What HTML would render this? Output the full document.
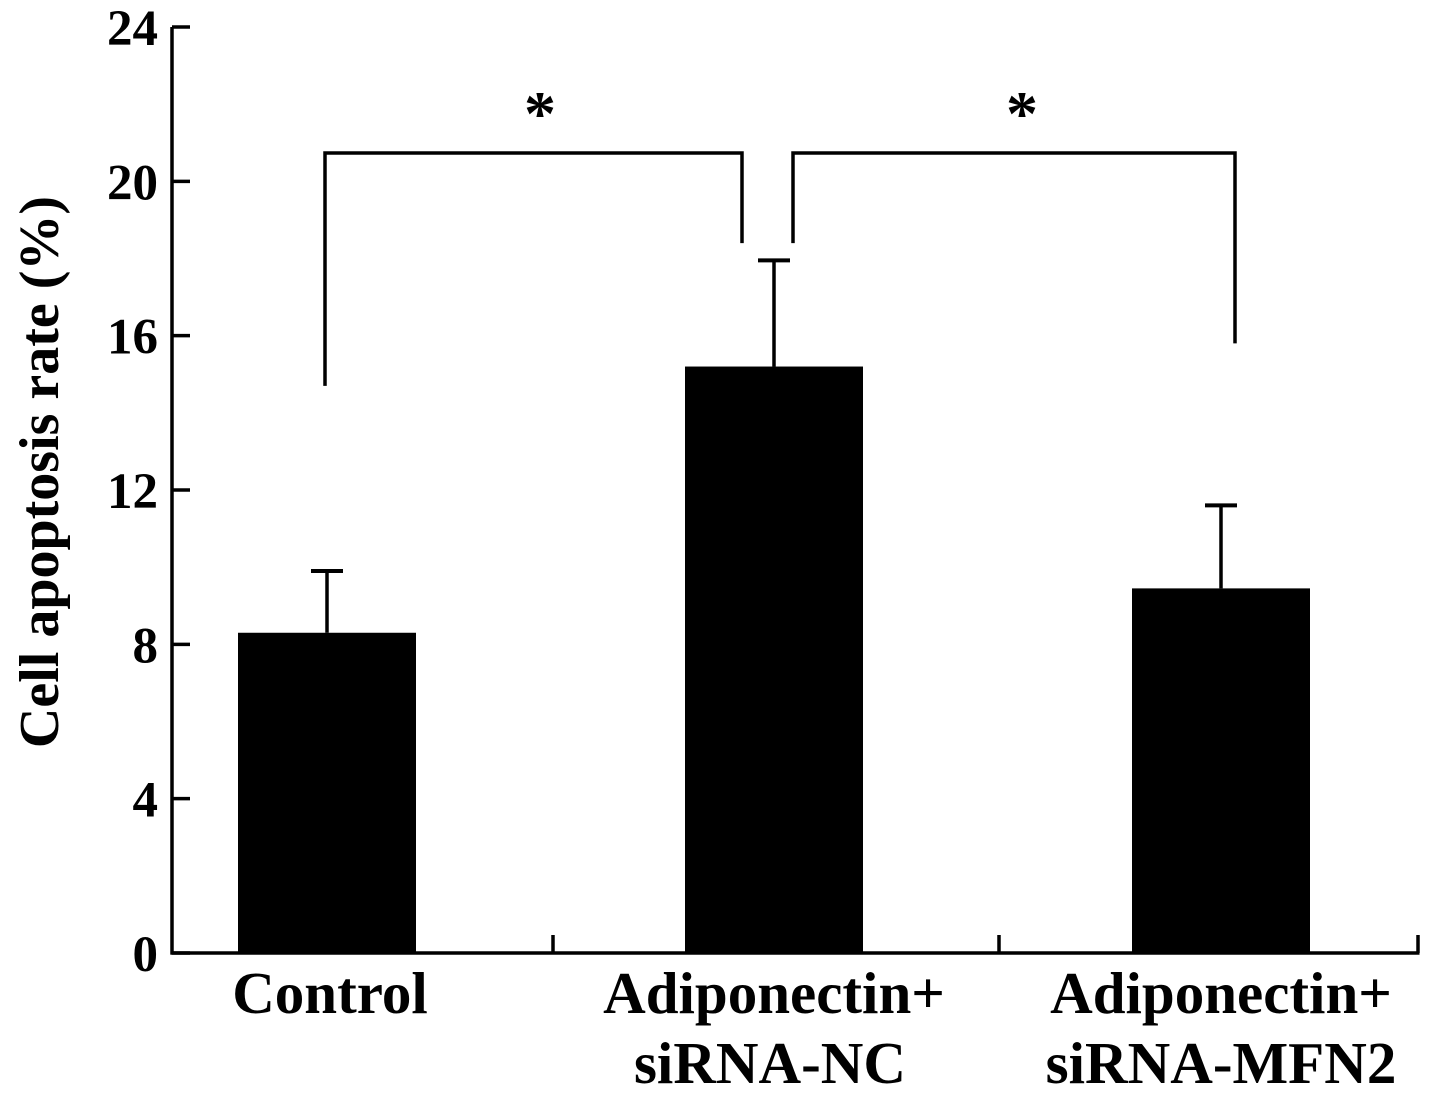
<!DOCTYPE html>
<html><head><meta charset="utf-8"><style>
html,body{margin:0;padding:0;background:#fff;}
svg{display:block;}
text{font-family:"Liberation Serif",serif;font-weight:bold;fill:#000;}
</style></head><body>
<svg id="chart" width="1441" height="1103" viewBox="0 0 1441 1103">
<g id="g"></g>
</svg>
<script>
const categories = ["Control", "Adiponectin+|siRNA-NC", "Adiponectin+|siRNA-MFN2"];
const values = [8.3, 15.2, 9.45];
const errors = [1.6, 2.75, 2.15];
const yTicks = [0, 4, 8, 12, 16, 20, 24];
const sigPairs = [[0, 1], [1, 2]];
const sigTops = [14.7, 18.4, 18.4, 15.8];

const NS = "http://www.w3.org/2000/svg";
const g = document.getElementById("g");
const x0 = 172, x1 = 1418, yBase = 953, yTop = 27;
const y = v => yBase - (v / 24) * (yBase - yTop);
const cx = i => 327 + 447 * i;
const bw = 178;
const labelX = [330, 774, 1221];
function el(tag, attrs, name) {
  const e = document.createElementNS(NS, tag);
  for (const k in attrs) e.setAttribute(k, attrs[k]);
  
  
  g.appendChild(e);
  return e;
}
el('line', {x1: x0, y1: yTop, x2: x0, y2: yBase + 1.5, stroke: '#000', 'stroke-width': 3.5}, 'y-axis');
el('line', {x1: x0 - 1.5, y1: yBase, x2: x1 + 1.5, y2: yBase, stroke: '#000', 'stroke-width': 3.5}, 'x-axis');
yTicks.forEach(t => {
  el('line', {x1: x0, y1: y(t), x2: x0 + 18, y2: y(t), stroke: '#000', 'stroke-width': 3.5}, 'y-tick');
  const tx = el('text', {x: 158, y: y(t) + 18, 'text-anchor': 'end', 'font-size': 51}, 'y-tick-label');
  tx.textContent = t;
});
[553, 999, x1].forEach(xt => {
  el('line', {x1: xt, y1: yBase, x2: xt, y2: yBase - 18, stroke: '#000', 'stroke-width': 3.5}, 'x-tick');
});
const yt = el('text', {x: 0, y: 0, 'text-anchor': 'middle', 'font-size': 56, transform: 'translate(58,472) rotate(-90)'}, 'y-axis-title');
yt.textContent = 'Cell apoptosis rate (%)';
categories.forEach((c, i) => {
  const xc = cx(i);
  el('rect', {x: xc - bw / 2, y: y(values[i]), width: bw, height: yBase - y(values[i]), fill: '#000'}, 'bar-' + i);
  el('line', {x1: xc, y1: y(values[i]), x2: xc, y2: y(values[i] + errors[i]), stroke: '#000', 'stroke-width': 3.5}, 'error-bar');
  el('line', {x1: xc - 16, y1: y(values[i] + errors[i]), x2: xc + 16, y2: y(values[i] + errors[i]), stroke: '#000', 'stroke-width': 4}, 'error-cap');
  const lines = c.split('|');
  lines.forEach((ln, j) => {
    const t = el('text', {x: labelX[i] - (j === 1 && i === 1 ? 4 : 0), y: 1013 + j * 70, 'text-anchor': 'middle', 'font-size': 59}, 'x-label');
    t.textContent = ln;
  });
});
const bY = 153;
sigPairs.forEach((p, k) => {
  const xl = k === 0 ? cx(0) - 2 : cx(1) + 19;
  const xr = k === 0 ? cx(1) - 32 : cx(2) + 14;
  el('path', {d: `M${xl},${y(sigTops[k*2])} V${bY} H${xr} V${y(sigTops[k*2+1])}`, fill: 'none', stroke: '#000', 'stroke-width': 3.5}, 'significance-bracket');
  const s = el('text', {x: k === 0 ? 540 : 1022, y: 135, 'text-anchor': 'middle', 'font-size': 64}, 'significance-star');
  s.textContent = '*';
});
</script>
</body></html>
